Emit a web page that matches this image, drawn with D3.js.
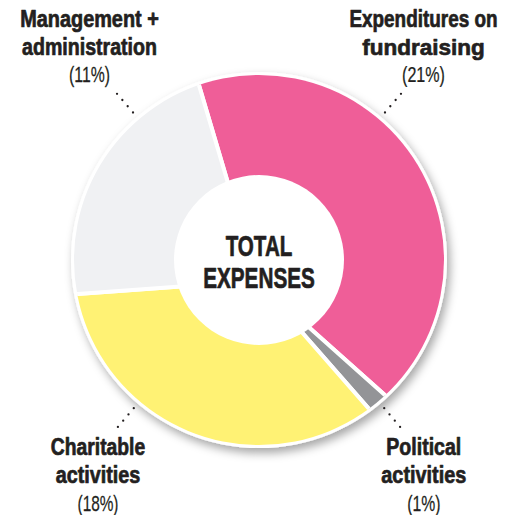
<!DOCTYPE html>
<html><head><meta charset="utf-8">
<script src="https://cdn.jsdelivr.net/npm/d3@7/dist/d3.min.js"></script>
<style>html,body{margin:0;padding:0;background:#fff;} svg{display:block}</style>
</head><body>
<svg id="chart" width="513" height="515"></svg>
<script>
// ---- data ----
const categories = ["Expenditures on fundraising", "Political activities", "Charitable activities", "Management + administration"];
const values = [21, 1, 18, 11];
const labelLines = [["Expenditures on", "fundraising"], ["Political", "activities"], ["Charitable", "activities"], ["Management +", "administration"]];
const percentLabels = ["(21%)", "(1%)", "(18%)", "(11%)"];
const colors = ["#EF5E98", "#939497", "#FFF274", "#F0F1F3"];
const centerTitle = ["TOTAL", "EXPENSES"];

// ---- layout (style / positions) ----
const C = [259, 260];          // donut circle centre
const P = [257, 281];          // slice origin (slices emanate from here)
const R = 185, ringR = 188, innerR = 85;
const startDeg = -16.5;
const labelPos = [[423.5, "top"], [423.8, "bottom"], [98, "bottom"], [89.5, "top"]];
const leaderDeg = [40.5, 139.8, 220.2, 319.5];
const lineWidths = [[148.3, 122.7, 43], [75, 85, 33.3], [94.3, 84.7, 41], [138.6, 135, 41]];
const centerWidths = [66.7, 111.7];
const ink = "#231F20";
const font = "'Liberation Sans', Arial, sans-serif";

const svg = d3.select("#chart");
const defs = svg.append("defs");
const f = defs.append("filter").attr("id", "shadow").attr("x", "-20%").attr("y", "-20%").attr("width", "140%").attr("height", "140%");
f.append("feDropShadow").attr("dx", 3).attr("dy", 5).attr("stdDeviation", 5).attr("flood-color", "#000").attr("flood-opacity", 0.35);
defs.append("clipPath").attr("id", "donutClip").append("circle").attr("cx", C[0]).attr("cy", C[1]).attr("r", R);

// white ring with shadow
svg.append("circle").attr("cx", C[0]).attr("cy", C[1]).attr("r", ringR).attr("fill", "#fff").attr("filter", "url(#shadow)");

const rad = d => d * Math.PI / 180;
const pie = d3.pie().sort(null).startAngle(rad(startDeg)).endAngle(rad(startDeg + 360));
const arcs = pie(values);
const arc = d3.arc().innerRadius(0).outerRadius(300);

svg.append("g").attr("clip-path", "url(#donutClip)")
  .append("g").attr("transform", `translate(${P[0]},${P[1]})`)
  .selectAll("path").data(arcs).join("path")
  .attr("d", arc)
  .attr("fill", (d, i) => colors[i])
  .attr("stroke", "#fff").attr("stroke-width", 4).attr("stroke-linejoin", "miter");

// inner hole
svg.append("circle").attr("cx", C[0]).attr("cy", C[1]).attr("r", innerR).attr("fill", "#fff");

// text helper: condensed by horizontal scale to target width
function condText(str, x, y, size, bold, width) {
  const t = svg.append("text").attr("x", 0).attr("y", 0)
    .attr("text-anchor", "middle").attr("font-family", font)
    .attr("font-weight", bold ? "bold" : "normal")
    .attr("font-size", size).attr("fill", ink)
    .text(str);
  t.attr("stroke", ink).attr("stroke-width", bold ? 0.7 : 0.25).attr("stroke-linejoin", "round");
  const w = t.node().getComputedTextLength() || width;
  const k = width / w;
  t.attr("transform", `translate(${x},${y}) scale(${k},1)`);
  return t;
}

// centre title
centerTitle.forEach((t, i) => condText(t, C[0], 256 + i * 32.3, 29.5, true, centerWidths[i]));

// labels
categories.forEach((c, i) => {
  const [x, side] = labelPos[i];
  const base = side === "top" ? 26.7 : 455;
  labelLines[i].forEach((l, j) => condText(l, x, base + j * 28.2, 23, true, lineWidths[i][j]));
  condText(percentLabels[i], x, base + 2 * 28 - 0.5, 22.5, false, lineWidths[i][2]);

  // dotted leader
  const a = rad(leaderDeg[i]);
  const p1 = d3.pointRadial(a, 194), p2 = d3.pointRadial(a, 219);
  svg.append("line")
    .attr("x1", C[0] + p1[0]).attr("y1", C[1] + p1[1])
    .attr("x2", C[0] + p2[0]).attr("y2", C[1] + p2[1])
    .attr("stroke", ink).attr("stroke-width", 2.3).attr("stroke-linecap", "round")
    .attr("stroke-dasharray", "0 8.2");
});
</script>
</body></html>
